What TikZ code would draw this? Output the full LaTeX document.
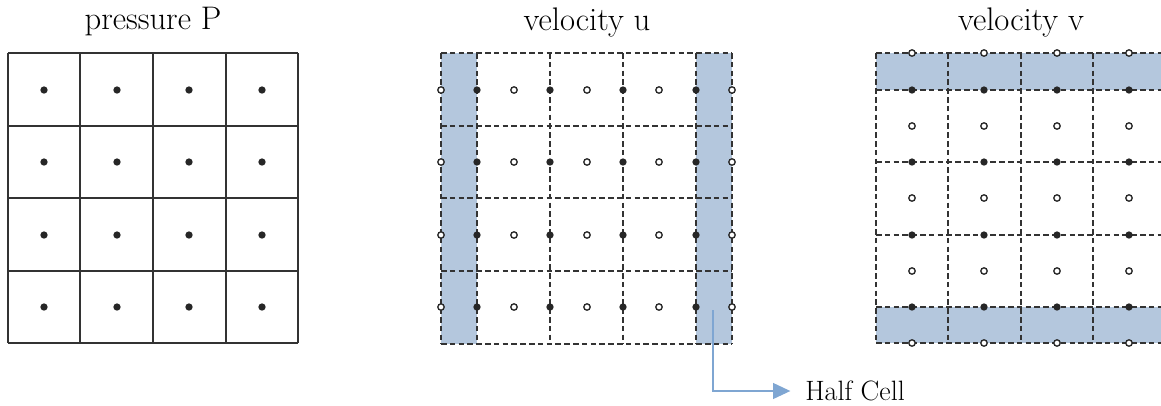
\documentclass[tikz,border=0pt]{standalone}
\usetikzlibrary{arrows.meta}
\definecolor{halfblue}{HTML}{B4C7DD}
\definecolor{arrowblue}{HTML}{7FA6D2}
\definecolor{gridgray}{HTML}{333333}
\begin{document}
\begin{tikzpicture}[x=0.75pt,y=-0.75pt,
  solidgrid/.style={draw=gridgray,line width=1.3pt},
  dashgrid/.style={draw=gridgray,line width=1.3pt,dash pattern=on 4.2pt off 2.4pt},
  halffill/.style={fill=halfblue,draw=none},
  fdot/.style={circle,fill=black!85,inner sep=0pt,minimum size=5.5pt},
  odot/.style={circle,fill=white,draw=black!85,line width=1pt,inner sep=0pt,minimum size=4.8pt},
  title/.style={font=\fontsize{24.5}{28}\selectfont,anchor=center},
  lbl/.style={font=\fontsize{21}{25}\selectfont,anchor=west,inner ysep=0pt,inner xsep=0pt}]
\useasboundingbox (0,0) rectangle (1161,405);
% titles
\node[title] (tp) at (153,22) {pressure P};
\node[title] (tu) at (587,22) {velocity u};
\node[title] (tv) at (1021,22) {velocity v};
% pressure grid
\foreach \x in {8,80,153,226,298} \draw[solidgrid] (\x,53) -- (\x,343);
\foreach \y in {53,126,198,271,343} \draw[solidgrid] (8,\y) -- (298,\y);
\foreach \x in {44,117,189,262} \foreach \y in {90,162,235,307}
  \node[fdot] at (\x,\y) {};
% velocity u
\fill[halffill] (441,53) rectangle (477,344);
\fill[halffill] (696,53) rectangle (732,344);
\foreach \x in {441,477,550,623,696,732} \draw[dashgrid] (\x,53) -- (\x,344);
\foreach \y in {53,126,198,271,344} \draw[dashgrid] (441,\y) -- (732,\y);
\foreach \y in {90,162,235,307} {
  \foreach \x in {477,550,623,696} \node[fdot] at (\x,\y) {};
  \foreach \x in {441,514,587,659,732} \node[odot] at (\x,\y) {};
}
% velocity v
\begin{scope}
\clip (860,40) rectangle (1161,360);
\fill[halffill] (876,53) rectangle (1170,90);
\fill[halffill] (876,307) rectangle (1170,343);
\foreach \x in {876,948,1021,1093,1166} \draw[dashgrid] (\x,53) -- (\x,343);
\foreach \y in {53,90,162,235,307,343} \draw[dashgrid] (876,\y) -- (1170,\y);
\foreach \x in {912,984,1057,1129} {
  \foreach \y in {90,162,235,307} \node[fdot] at (\x,\y) {};
  \foreach \y in {53,126,198,271,343} \node[odot] at (\x,\y) {};
}
\end{scope}
% half cell label
\node[lbl] (hc) at (805,391) {Half Cell};
\coordinate (hs) at (713,310);
\draw[arrowblue,line width=1pt,shorten >=11pt,-{Triangle[length=13pt,width=12pt]}] (hs) |- (hc.west);
\end{tikzpicture}
\end{document}
